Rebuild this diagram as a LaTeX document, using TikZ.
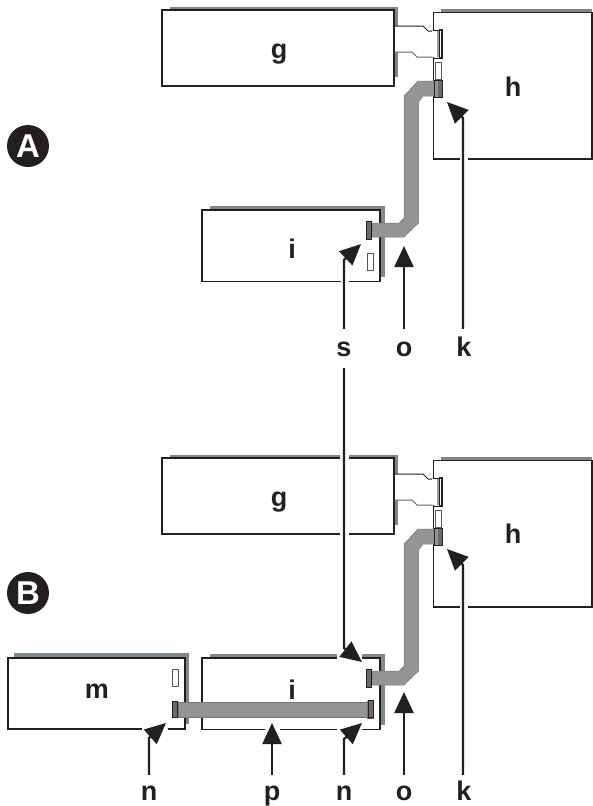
\documentclass[tikz,border=0pt]{standalone}
\usepackage{fontspec}
\setmainfont{Liberation Sans}
\usetikzlibrary{arrows.meta,calc}
\definecolor{shade}{HTML}{7C888B}
\definecolor{cable}{HTML}{969492}
\definecolor{plug}{HTML}{6C6B6A}
\definecolor{ink}{HTML}{231F20}
\tikzset{
  lbl/.style={font=\fontsize{27}{27}\selectfont\bfseries,text=ink,inner sep=0pt,anchor=base,text height=27pt},
  lowlbl/.style={lbl,text height=25pt},
  box/.style={draw=ink,line width=1.1pt,fill=white},
  shadow/.style={fill=shade},
  wire/.style={fill=cable,draw=cable!80!black,line width=0.5pt},
  plugend/.style={fill=plug,draw=ink,line width=1pt},
  slot/.style={fill=white,draw=ink!75,line width=1pt},
  gap/.style={fill=white},
  arw/.style={draw=ink,line width=2.3pt,-{Triangle[length=21pt,width=19pt]}},
  badge/.style={circle,fill=ink,text=white,inner sep=0pt,minimum size=42pt,font=\fontsize{33}{33}\selectfont\bfseries}
}
\begin{document}
\begin{tikzpicture}[x=1pt,y=-1pt]
\useasboundingbox (0,0) rectangle (593,806);

\foreach \dy/\nm in {0/A,448/B} {
\begin{scope}[shift={(0,\dy)}]
% g with its plug
\fill[shadow] (170,7) rectangle (398,77);
\draw[box] (162,10) rectangle (394,86);
\fill[white] (395,26) -- (423,26) -- (428,31) -- (436,31) -- (436,57) -- (417,57) -- (412,52) -- (395,52) -- cycle;
\draw[ink,line width=1pt] (394,26) -- (423,26) -- (428,31) -- (436,31);
\draw[ink!70,line width=1pt] (394,52) -- (412,52) -- (417,57) -- (436,57);
% h
\fill[shadow] (441,9) rectangle (592,13);
\draw[box] (433.5,12.5) rectangle (592,159);
\fill[white] (432,31) rectangle (438,57);
\draw[draw=ink!45,line width=1.5pt] (438,31) -- (438,57);
\draw[ink,line width=1.2pt,fill=white] (439.5,30) rectangle (442,58);
\draw[ink,line width=1pt] (433,30) -- (440,30) (433,58) -- (440,58);
\draw[slot] (435,62) rectangle (441,79);
% i
\fill[shadow] (210,206) rectangle (385,277);
\draw[box] (202,210) rectangle (380,281.5);
\draw[slot] (367,253) rectangle (373.5,270);
% cable
\draw[wire] (372,223) -- (399,223) -- (404,218) -- (404,96) -- (418,81) -- (436,81) -- (436,96) -- (423,96) -- (418.5,102) -- (418.5,223) -- (404,237) -- (372,237) -- cycle;
\draw[plugend] (366,221) rectangle (371,239);
\draw[ink,line width=1pt,fill=cable] (434,80) rectangle (442,97);
\fill[plug] (438,80.5) rectangle (441.5,96.5);
\end{scope}
}

% panel B only
\fill[shadow] (14,653) rectangle (189,724);
\draw[box] (8,658) rectangle (185,729);
\draw[slot] (172,669) rectangle (178,686);
\draw[wire] (178,702) rectangle (367,717);
\draw[plugend] (172,701) rectangle (177,717);
\draw[plugend] (368,700) rectangle (373,717);

% white gaps for the arrows
\fill[gap] (341,278) rectangle (349,285);
\fill[gap] (460,156) rectangle (468,162);
\fill[gap] (340,452) rectangle (349,462);
\fill[gap] (340,528) rectangle (349,535);
\fill[gap] (460,603) rectangle (468,610);
\fill[gap] (337,650) rectangle (362,661);
\fill[gap] (142,725) rectangle (168,732);
\fill[gap] (265,725) rectangle (280,732);
\fill[gap] (337,725) rectangle (362,732);

% text in the boxes
\node[lbl] (g1) at (279,58) {g};
\node[lbl] (h1) at (513,96) {h};
\node[lbl] (i1) at (292,258) {i};
\node[lbl] (g2) at (279,506) {g};
\node[lbl] (h2) at (513,543) {h};
\node[lbl] (i2) at (292,699) {i};
\node[lbl] (m1) at (97,698) {m};

\node[badge] (badgeA) at (28,146) {A};
\node[badge] (badgeB) at (28,593) {B};

% labels
\node[lbl] (s1) at (344,356) {s};
\node[lbl] (o1) at (404,356) {o};
\node[lbl] (k1) at (464,356) {k};
\node[lowlbl] (n1) at (149,800) {n};
\node[lowlbl] (p1) at (272,800) {p};
\node[lowlbl] (n2) at (344,800) {n};
\node[lowlbl] (o2) at (404,800) {o};
\node[lowlbl] (k2) at (464,800) {k};

% arrow ends
\coordinate (tipS1) at (361,244);
\coordinate (tipO1) at (404,246);
\coordinate (tipK1) at (447,102);
\coordinate (tipS2) at (362,662);
\coordinate (tipO2) at (404,692);
\coordinate (tipK2) at (447,549);
\coordinate (tipN1) at (166,723);
\coordinate (tipP1) at (272,723);
\coordinate (tipN2) at (362,723);

\draw[arw] (s1.north) -- (344,260) -- (tipS1);
\draw[arw] (o1.north) -- (tipO1);
\draw[arw] (k1.north -| 463,0) -- (463,118) -- (tipK1);
\draw[arw] ($(s1.base)+(0,12)$) -- (344,648) -- (tipS2);
\draw[arw] (o2.north) -- (tipO2);
\draw[arw] (k2.north -| 463,0) -- (463,565) -- (tipK2);
\draw[arw] (n1.north) -- (149,738) -- (tipN1);
\draw[arw] (p1.north) -- (tipP1);
\draw[arw] (n2.north) -- (344,739) -- (tipN2);
\end{tikzpicture}
\end{document}
